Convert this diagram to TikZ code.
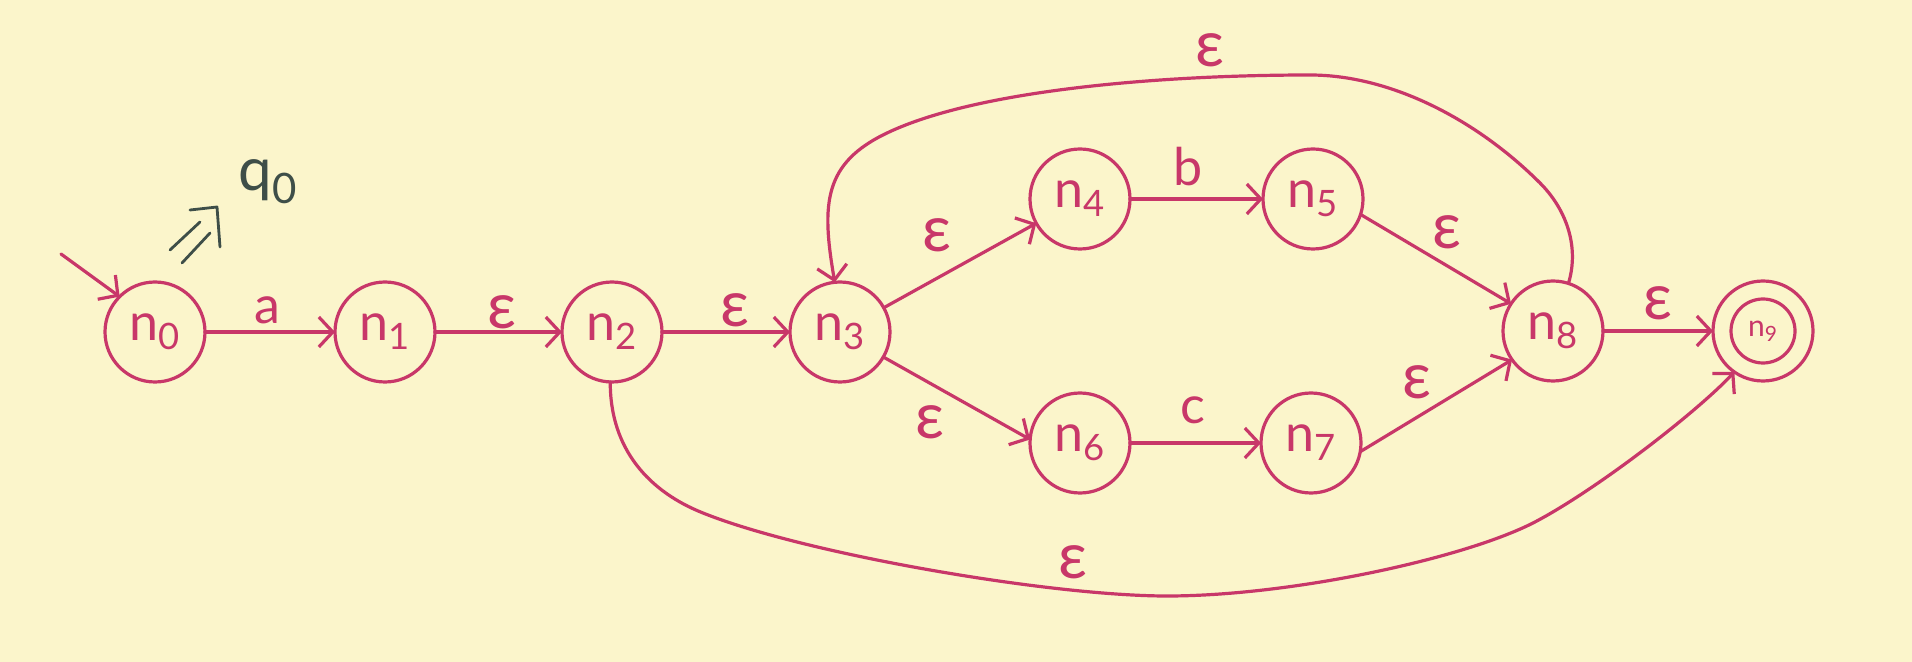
\documentclass[tikz,border=0pt]{standalone}
\usepackage{fontspec}
\setmainfont{Lato}
\usetikzlibrary{arrows.meta}
\definecolor{ink}{RGB}{200,55,105}
\definecolor{paper}{RGB}{251,245,203}
\definecolor{slate}{RGB}{62,78,72}
\begin{document}
\begin{tikzpicture}[x=0.5pt,y=0.5pt,
  state/.style={circle,draw=ink,line width=1.6pt,minimum size=50pt,inner sep=0pt,outer sep=0pt,
    text=ink,font=\fontsize{26}{30}\selectfont},
  edge/.style={draw=ink,line width=1.6pt,line cap=round,line join=round,-{Straight Barb[length=7pt,width=15pt]}},
  lbl/.style={text=ink,inner sep=0pt,font=\fontsize{26}{30}\selectfont},
  eps/.style={text=ink,inner sep=0pt,font=\fontsize{32}{36}\selectfont},
  note/.style={draw=slate,line width=1.4pt,line cap=round,line join=round},
]
\fill[paper] (0,0) rectangle (1912,-662);

% states
\node[state] (n0) at (155,-332) {n\textsubscript{0}};
\node[state] (n1) at (385,-332) {n\textsubscript{1}};
\node[state] (n2) at (612,-332) {n\textsubscript{2}};
\node[state] (n3) at (840,-332) {n\textsubscript{3}};
\node[state] (n4) at (1080,-199) {n\textsubscript{4}};
\node[state] (n5) at (1313,-199) {n\textsubscript{5}};
\node[state] (n6) at (1080,-443) {n\textsubscript{6}};
\node[state] (n7) at (1311,-443) {n\textsubscript{7}};
\node[state] (n8) at (1553,-331) {n\textsubscript{8}};
\node[state,font=\fontsize{15}{18}\selectfont] (n9) at (1763,-331) {n\textsubscript{9}};
\draw[ink,line width=1.6pt] (n9.center) circle[radius=32];

% start arrow
\coordinate (init) at (61,-254);
\draw[edge] (init) -- (n0.135);

% annotation
\draw[note] (170,-250) -- (200,-222);
\draw[note] (182,-263) -- (210,-233);
\draw[note] (190,-210) -- (217,-207) -- (220,-247);
\node[text=slate,inner sep=0pt,font=\fontsize{30}{34}\selectfont] (q0) at (268,-182) {q\textsubscript{0}};

% transitions
\draw[edge] (n0) -- (n1) node[lbl] at (267,-310) {a};
\draw[edge] (n1) -- (n2) node[eps] at (502,-312) {ε};
\draw[edge] (n2) -- (n3) node[eps] at (735,-310) {ε};
\draw[edge] (n3) -- (n4) node[eps] at (937,-235) {ε};
\draw[edge] (n3.-30) -- (n6.176) node[eps] at (930,-422) {ε};
\draw[edge] (n4) -- (n5) node[lbl] at (1188,-167) {b};
\draw[edge] (n6) -- (n7) node[lbl] at (1193,-410) {c};
\draw[edge] (n5.-18) -- (n8.147) node[eps] at (1447,-232) {ε};
\draw[edge] (n7.-10) -- (n8.215) node[eps] at (1417,-382) {ε};
\draw[edge] (n8) -- (n9) node[eps] at (1658,-303) {ε};

% loop back n8 -> n3
\draw[edge] (n8.72) .. controls (1580,-245) and (1565,-208) .. (1540,-183)
  .. controls (1476,-119) and (1390,-75) .. (1310,-75)
  .. controls (1160,-75) and (977,-90) .. (887,-133)
  .. controls (824,-163) and (821,-203) .. (n3.96)
  node[eps] at (1210,-50) {ε};

% bypass n2 -> n9
\draw[edge] (n2.268) .. controls (610,-450) and (650,-492) .. (703,-513)
  .. controls (805,-554) and (1050,-596) .. (1167,-596)
  .. controls (1290,-596) and (1462,-559) .. (1533,-523)
  .. controls (1595,-491) and (1697,-412) .. (n9.235)
  node[eps] at (1073,-562) {ε};
\end{tikzpicture}
\end{document}
